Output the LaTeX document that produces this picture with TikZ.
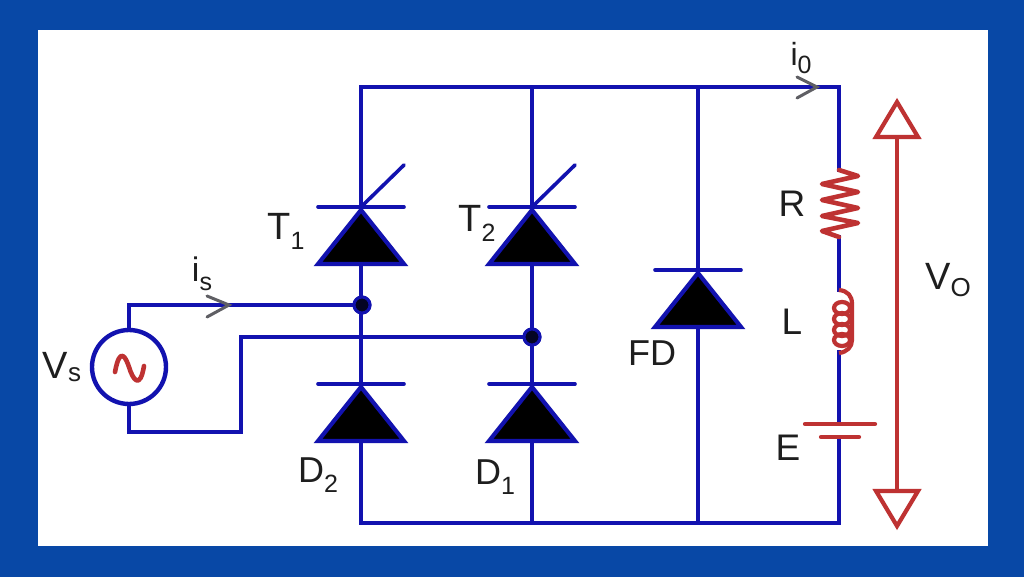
\documentclass[tikz,border=0pt]{standalone}
\usepackage{fontspec}
\setmainfont{Liberation Sans}
\usetikzlibrary{calc}
\definecolor{frameblue}{RGB}{8,72,166}
\definecolor{wire}{RGB}{18,18,175}
\definecolor{redc}{RGB}{190,50,50}
\definecolor{greyc}{RGB}{95,95,100}
\definecolor{labelc}{RGB}{30,30,30}
\newcommand{\lab}[3]{{\fontsize{#1}{#1}\selectfont #2\raisebox{-0.26em}{\fontsize{25}{25}\selectfont #3}}}
\tikzset{
 x=1pt,y=-1pt,
 wireline/.style={draw=wire,line width=3.8pt,line join=miter,line cap=rect},
 barline/.style={draw=wire,line width=3.6pt,line cap=round},
 tri/.style={draw=wire,fill=black,line width=4.2pt,line join=miter},
 redline/.style={draw=redc,line width=3.8pt,line join=round},
 curarrow/.style={draw=greyc,line width=3pt,line cap=round,line join=miter},
 lbl/.style={text=labelc,inner sep=0pt,anchor=center},
 dotnode/.style={circle,fill=black!80!wire,draw=wire,line width=3pt,minimum size=16pt,inner sep=0pt},
}
\begin{document}
\begin{tikzpicture}
\useasboundingbox (0,0) rectangle (1024,577);
\fill[frameblue] (0,0) rectangle (1024,577);
\fill[white] (38,30) rectangle (988,546);
% named points
\coordinate (tl) at (361,87); \coordinate (t2) at (532,87); \coordinate (tf) at (698,87); \coordinate (tr) at (839,87);
\coordinate (bl) at (361,523); \coordinate (b2) at (532,523); \coordinate (bf) at (698,523); \coordinate (br) at (839,523);
\coordinate (vt) at (129,305); \coordinate (vb) at (129,432); \coordinate (k1) at (241,432); \coordinate (k2) at (241,337);
\node[dotnode] (j1) at (362,305) {};
\node[dotnode] (j2) at (532,337) {};
% wires
\draw[wireline] (bl) -- (br) -- (839,437);
\draw[wireline] (839,424) -- (839,352);
\draw[wireline] (839,290) -- (839,237);
\draw[wireline] (839,170) -- (tr) -- (tl) -- (bl);
\draw[wireline] (t2) -- (b2);
\draw[wireline] (tf) -- (bf);
\draw[wireline] (129,367) -- (vt) -- (j1.center);
\draw[wireline] (129,367) -- (vb) -- (k1) -- (k2) -- (j2.center);
\node[circle,draw=wire,line width=4.4pt,fill=white,minimum size=74pt,inner sep=0pt] (src) at (129,367) {};
% thyristors and diodes
\foreach \nm/\cx/\cy in {a/361/207,b/532/207,c/361/384,d/532/384,e/698/270}{
  \draw[barline] (\cx-43,\cy) -- (\cx+43,\cy);
  \draw[tri] (\cx,\cy+3) -- (\cx+43,\cy+57) -- (\cx-43,\cy+57) -- cycle;
}
\draw[wire,line width=3.6pt,line cap=round] (361,207) -- (404,165);
\draw[wire,line width=3.6pt,line cap=round] (532,207) -- (575,165);
% junctions on top
\node[dotnode] at (j1) {};
\node[dotnode] at (j2) {};
% current arrows
\draw[curarrow] (207,296) -- (229,305) -- (207,317);
\draw[curarrow] (797,77) -- (817,87) -- (797,98);
% source symbol
\draw[redline,line width=4.6pt,line cap=round] (115,372) .. controls (120,345) and (126,358) .. (129,367) .. controls (133,380) and (140,390) .. (144,366);
% resistor
\draw[redline,line width=4.6pt,line cap=round] (839,170) -- (858,176) -- (822,184) -- (858,192) -- (822,200) -- (858,208) -- (822,216) -- (858,223) -- (822,231) -- (839,237);
% inductor
\draw[redline,line width=4.2pt] (839,290) .. controls (848,291) and (852,296) .. (852,304) -- (852,340) .. controls (852,347) and (847,352) .. (839,353);
\foreach \yy in {308,319,330,340}{
  \draw[redc,line width=4.2pt] (842,\yy) ellipse [x radius=8,y radius=6];
}
% battery
\draw[redline,line cap=round,line width=4.2pt] (805,424) -- (875,424);
\draw[redline,line cap=round,line width=4.2pt] (821,437) -- (859,437);
% voltage arrow
\draw[redline] (897,137) -- (897,491);
\draw[redline,line join=miter,line width=4.2pt] (897,102) -- (918,137) -- (876,137) -- cycle;
\draw[redline,line join=miter,line width=4.2pt] (897,526) -- (918,491) -- (876,491) -- cycle;
% labels
\node[lbl] (lt1) at (286,231) {\lab{38}{T}{1}};
\node[lbl] (lt2) at (477,223) {\lab{38}{T}{2}};
\node[lbl] (ld2) at (318,475) {\lab{36}{D}{2}};
\node[lbl] (ld1) at (495,477) {\lab{36}{D}{1}};
\node[lbl] (lfd) at (652,353) {\fontsize{36}{36}\selectfont FD};
\node[lbl] (lvs) at (62,367) {\fontsize{38}{38}\selectfont V\raisebox{-0.1em}{\fontsize{26}{26}\selectfont s}};
\node[lbl] (lis) at (202,274) {\lab{34}{i}{s}};
\node[lbl] (lio) at (801,58) {\lab{32}{i}{0}};
\node[lbl] (lr) at (792,204) {\fontsize{37}{37}\selectfont R};
\node[lbl] (ll) at (792,322) {\fontsize{37}{37}\selectfont L};
\node[lbl] (le) at (788,448) {\fontsize{37}{37}\selectfont E};
\node[lbl] (lvo) at (948,280) {\fontsize{38}{38}\selectfont V\raisebox{-0.2em}{\fontsize{26}{26}\selectfont O}};
\end{tikzpicture}
\end{document}
